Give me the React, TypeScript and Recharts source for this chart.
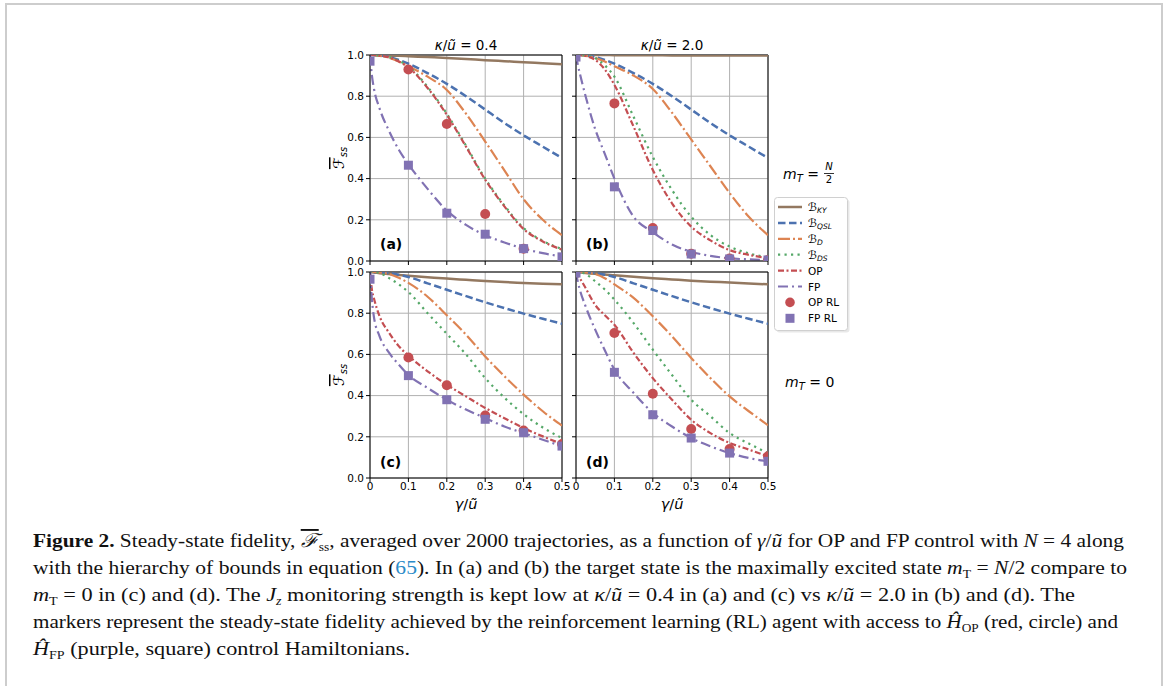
import React from "react";
import {
  CartesianGrid,
  ComposedChart,
  Line,
  ReferenceLine,
  Scatter,
  XAxis,
  YAxis,
} from "recharts";

// gamma / u grid used for all curves
const GAMMA = [0, 0.005, 0.01, 0.025, 0.05, 0.075, 0.1, 0.15, 0.2, 0.25, 0.3, 0.35, 0.4, 0.45, 0.5];
const RL_GAMMA = [0, 0.1, 0.2, 0.3, 0.4, 0.5];
const X_TICKS = [0, 0.1, 0.2, 0.3, 0.4, 0.5];
const Y_TICKS = [0, 0.2, 0.4, 0.6, 0.8, 1.0];

// (a) m_T = N/2, kappa/u = 0.4
const A_KY = [1.0, 1.0, 0.999, 0.998, 0.997, 0.996, 0.994, 0.99, 0.986, 0.981, 0.975, 0.97, 0.965, 0.96, 0.955];
const A_QSL = [1.0, 1.0, 1.0, 0.998, 0.99, 0.976, 0.958, 0.912, 0.86, 0.8, 0.735, 0.67, 0.61, 0.555, 0.5];
const A_D = [1.0, 1.0, 1.0, 0.996, 0.986, 0.968, 0.945, 0.895, 0.83, 0.715, 0.58, 0.44, 0.3, 0.2, 0.125];
const A_DS = [1.0, 1.0, 1.0, 0.997, 0.99, 0.972, 0.945, 0.845, 0.715, 0.56, 0.4, 0.27, 0.16, 0.098, 0.058];
const A_OP = [1.0, 1.0, 1.0, 0.997, 0.988, 0.968, 0.94, 0.84, 0.71, 0.555, 0.395, 0.265, 0.155, 0.095, 0.055];
const A_FP = [1.0, 0.9, 0.84, 0.74, 0.63, 0.54, 0.47, 0.35, 0.245, 0.175, 0.125, 0.09, 0.06, 0.038, 0.022];
const A_OP_RL = [null, 0.93, 0.665, 0.228, 0.06, null];
const A_FP_RL = [0.97, 0.465, 0.232, 0.13, 0.06, 0.02];

// (b) m_T = N/2, kappa/u = 2.0
const B_KY = [1.0, 1.0, 1.0, 1.0, 1.0, 1.0, 0.999, 0.999, 0.999, 0.998, 0.998, 0.998, 0.997, 0.997, 0.997];
const B_QSL = [1.0, 1.0, 1.0, 0.998, 0.99, 0.976, 0.958, 0.912, 0.86, 0.8, 0.735, 0.67, 0.61, 0.555, 0.5];
const B_D = [1.0, 1.0, 1.0, 0.996, 0.986, 0.968, 0.945, 0.9, 0.835, 0.72, 0.59, 0.46, 0.33, 0.215, 0.125];
const B_DS = [1.0, 1.0, 1.0, 0.998, 0.985, 0.95, 0.895, 0.7, 0.505, 0.345, 0.215, 0.126, 0.07, 0.037, 0.018];
const B_OP = [1.0, 1.0, 1.0, 0.995, 0.976, 0.93, 0.855, 0.652, 0.442, 0.28, 0.167, 0.1, 0.053, 0.03, 0.013];
const B_FP = [1.0, 0.95, 0.91, 0.8, 0.64, 0.52, 0.4, 0.215, 0.14, 0.08, 0.045, 0.025, 0.013, 0.008, 0.005];
const B_OP_RL = [null, 0.765, 0.16, 0.035, 0.012, 0.005];
const B_FP_RL = [0.99, 0.36, 0.148, 0.034, 0.01, 0.005];

// (c) m_T = 0, kappa/u = 0.4
const C_KY = [1.0, 0.999, 0.998, 0.994, 0.99, 0.986, 0.982, 0.975, 0.968, 0.962, 0.956, 0.951, 0.947, 0.943, 0.94];
const C_QSL = [1.0, 1.0, 1.0, 0.999, 0.995, 0.987, 0.976, 0.945, 0.914, 0.883, 0.853, 0.825, 0.798, 0.773, 0.749];
const C_D = [1.0, 1.0, 1.0, 0.998, 0.99, 0.972, 0.947, 0.88, 0.79, 0.696, 0.59, 0.494, 0.405, 0.324, 0.254];
const C_DS = [1.0, 1.0, 1.0, 0.995, 0.97, 0.94, 0.903, 0.8, 0.7, 0.6, 0.485, 0.39, 0.31, 0.245, 0.194];
const C_OP = [1.0, 0.914, 0.874, 0.785, 0.704, 0.64, 0.594, 0.518, 0.453, 0.396, 0.34, 0.29, 0.243, 0.202, 0.165];
const C_FP = [1.0, 0.866, 0.785, 0.688, 0.607, 0.55, 0.5, 0.437, 0.38, 0.332, 0.291, 0.25, 0.218, 0.186, 0.154];
const C_OP_RL = [null, 0.585, 0.45, 0.303, 0.23, 0.165];
const C_FP_RL = [0.965, 0.497, 0.38, 0.285, 0.22, 0.155];

// (d) m_T = 0, kappa/u = 2.0
const D_KY = [1.0, 0.999, 0.998, 0.995, 0.991, 0.988, 0.984, 0.977, 0.97, 0.964, 0.958, 0.953, 0.949, 0.944, 0.94];
const D_QSL = [1.0, 1.0, 1.0, 0.999, 0.995, 0.987, 0.976, 0.945, 0.914, 0.883, 0.853, 0.825, 0.798, 0.773, 0.749];
const D_D = [1.0, 1.0, 1.0, 0.998, 0.99, 0.97, 0.94, 0.874, 0.785, 0.688, 0.583, 0.485, 0.396, 0.324, 0.256];
const D_DS = [1.0, 1.0, 0.999, 0.99, 0.955, 0.915, 0.866, 0.752, 0.623, 0.5, 0.38, 0.3, 0.218, 0.167, 0.121];
const D_OP = [1.0, 0.985, 0.97, 0.922, 0.84, 0.79, 0.744, 0.607, 0.485, 0.38, 0.283, 0.218, 0.17, 0.138, 0.105];
const D_FP = [1.0, 0.95, 0.914, 0.833, 0.72, 0.62, 0.526, 0.413, 0.316, 0.25, 0.194, 0.154, 0.121, 0.097, 0.081];
const D_OP_RL = [null, 0.704, 0.409, 0.238, 0.141, 0.105];
const D_FP_RL = [0.995, 0.513, 0.307, 0.194, 0.121, 0.081];

const BROWN = "#937860";
const BLUE = "#4C72B0";
const ORANGE = "#DD8452";
const GREEN = "#55A868";
const RED = "#C44E52";
const PURPLE = "#8172B3";
const GRID = "#b0b0b0";
const SANS = "DejaVu Sans";
const SERIF = "Liberation Serif";

const STYLES = [
  { key: "ky", color: BROWN, dash: undefined, width: 2.5 },
  { key: "qsl", color: BLUE, dash: "7.5 3.5", width: 2.5 },
  { key: "d", color: ORANGE, dash: "12 3 2 3", width: 2.2 },
  { key: "ds", color: GREEN, dash: "2.2 4.3", width: 2.2 },
  { key: "op", color: RED, dash: "6 2.5 2 2.5", width: 2.2 },
  { key: "fp", color: PURPLE, dash: "10 4 2 4", width: 2.2 },
];

const tickStyle = { fill: "#000", fontSize: 10.5, fontFamily: SANS };

function RedDot(props: any) {
  const { cx, cy } = props;
  return <circle cx={cx} cy={cy} r={5} fill={RED} />;
}

function PurpleSquare(props: any) {
  const { cx, cy } = props;
  return <rect x={cx - 4.5} y={cy - 4.5} width={9} height={9} fill={PURPLE} />;
}

function Panel({ left, top, ky, qsl, d, ds, op, fp, opRl, fpRl, showX, showY }: any) {
  const rows = GAMMA.map((g, i) => ({ g, ky: ky[i], qsl: qsl[i], d: d[i], ds: ds[i], op: op[i], fp: fp[i] }));
  const opPts = RL_GAMMA.map((g, i) => ({ g, v: opRl[i] })).filter((p) => p.v !== null);
  const fpPts = RL_GAMMA.map((g, i) => ({ g, v: fpRl[i] })).filter((p) => p.v !== null);

  return (
    <div style={{ position: "absolute", left, top }}>
      <ComposedChart width={252} height={231} data={rows} margin={{ top: 5, right: 20, bottom: 0, left: 0 }}>
        <CartesianGrid stroke={GRID} strokeWidth={1} />
        <XAxis
          dataKey="g"
          type="number"
          domain={[0, 0.5]}
          ticks={X_TICKS}
          interval={0}
          allowDataOverflow
          height={20}
          tickSize={4}
          tickMargin={1}
          axisLine={{ stroke: "#000" }}
          tickLine={{ stroke: "#000" }}
          tick={tickStyle}
          tickFormatter={(v: number) => (showX ? (v === 0 ? "0" : v.toFixed(1)) : "")}
        />
        <YAxis
          type="number"
          domain={[0, 1]}
          ticks={Y_TICKS}
          interval={0}
          allowDataOverflow
          width={40}
          tickSize={4}
          tickMargin={2}
          axisLine={{ stroke: "#000" }}
          tickLine={{ stroke: "#000" }}
          tick={tickStyle}
          tickFormatter={(v: number) => (showY ? v.toFixed(1) : "")}
        />
        <ReferenceLine y={1} stroke="#000" />
        <ReferenceLine x={0.5} stroke="#000" />
        {STYLES.map((s) => (
          <Line
            key={s.key}
            type="monotone"
            dataKey={s.key}
            stroke={s.color}
            strokeWidth={s.width}
            strokeDasharray={s.dash}
            dot={false}
            isAnimationActive={false}
          />
        ))}
        <Scatter data={opPts} dataKey="v" shape={RedDot} isAnimationActive={false} />
        <Scatter data={fpPts} dataKey="v" shape={PurpleSquare} isAnimationActive={false} />
      </ComposedChart>
    </div>
  );
}

const LEGEND = [
  { name: "ℬ", sub: "KY", kind: "line", s: STYLES[0] },
  { name: "ℬ", sub: "QSL", kind: "line", s: STYLES[1] },
  { name: "ℬ", sub: "D", kind: "line", s: STYLES[2] },
  { name: "ℬ", sub: "DS", kind: "line", s: STYLES[3] },
  { name: "OP", sub: "", kind: "line", s: STYLES[4] },
  { name: "FP", sub: "", kind: "line", s: STYLES[5] },
  { name: "OP RL", sub: "", kind: "circle", s: STYLES[4] },
  { name: "FP RL", sub: "", kind: "square", s: STYLES[5] },
];

function Title({ x, y, value }: any) {
  return (
    <text x={x} y={y} textAnchor="middle" fontFamily={SANS} fontSize={13.5} fill="#000">
      <tspan fontStyle="italic">κ</tspan>/<tspan fontStyle="italic">ũ</tspan>
      {" = " + value}
    </text>
  );
}

function XLabel({ x, y }: any) {
  return (
    <text x={x} y={y} textAnchor="middle" fontFamily={SANS} fontSize={14.5} fill="#000">
      <tspan fontStyle="italic">γ</tspan>/<tspan fontStyle="italic">ũ</tspan>
    </text>
  );
}

function YLabel({ x, y }: any) {
  return (
    <text x={x} y={y} textAnchor="middle" fontFamily={SANS} fontSize={15} fill="#000" transform={`rotate(-90 ${x} ${y})`}>
      <tspan fontStyle="italic" textDecoration="overline">ℱ</tspan>
      <tspan fontStyle="italic" fontSize={10} dy={3}>ss</tspan>
    </text>
  );
}

function Overlay() {
  return (
    <svg width={1165} height={686} style={{ position: "absolute", left: 0, top: 0, pointerEvents: "none" }}>
      <Title x={466} y={50} value="0.4" />
      <Title x={672} y={50} value="2.0" />
      <XLabel x={466} y={509} />
      <XLabel x={672} y={509} />
      <YLabel x={344} y={158} />
      <YLabel x={344} y={375} />

      {[["(a)", 380, 249], ["(b)", 586, 249], ["(c)", 380, 467], ["(d)", 586, 467]].map(([t, x, y]) => (
        <text key={t as string} x={x as number} y={y as number} fontFamily={SANS} fontWeight="bold" fontSize={14} fill="#000">
          {t}
        </text>
      ))}

      <text x={783} y={179} fontFamily={SANS} fontSize={14} fill="#000">
        <tspan fontStyle="italic">m</tspan>
        <tspan fontStyle="italic" fontSize={10} dy={3}>T</tspan>
        <tspan dy={-3}>{" = "}</tspan>
      </text>
      <text x={829} y={170} textAnchor="middle" fontFamily={SANS} fontSize={10} fill="#000">
        <tspan fontStyle="italic">N</tspan>
      </text>
      <line x1={824} x2={834} y1={173.5} y2={173.5} stroke="#000" strokeWidth={0.8} />
      <text x={829} y={183} textAnchor="middle" fontFamily={SANS} fontSize={10} fill="#000">
        2
      </text>
      <text x={785} y={387} fontFamily={SANS} fontSize={14} fill="#000">
        <tspan fontStyle="italic">m</tspan>
        <tspan fontStyle="italic" fontSize={10} dy={3}>T</tspan>
        <tspan dy={-3}>{" = 0"}</tspan>
      </text>

      <rect x={776.5} y={199.5} width={73} height={133} rx={3} fill="#e8e8e8" />
      <rect x={774.5} y={197.5} width={73} height={133} rx={3} fill="#fff" stroke="#d0d0d0" />
      {LEGEND.map((e, i) => {
        const y = 207 + i * 15.9;
        return (
          <g key={i}>
            {e.kind === "line" && (
              <line x1={778} x2={802} y1={y} y2={y} stroke={e.s.color} strokeWidth={e.s.width} strokeDasharray={e.s.dash} />
            )}
            {e.kind === "circle" && <circle cx={790} cy={y} r={4.8} fill={RED} />}
            {e.kind === "square" && <rect x={785.5} y={y - 4.5} width={9} height={9} fill={PURPLE} />}
            <text x={808} y={y + 4} fontFamily={SANS} fontSize={10.5} fill="#000">
              <tspan fontStyle={e.sub ? "italic" : "normal"} fontSize={e.sub ? 11.5 : 10.5}>{e.name}</tspan>
              {e.sub && (
                <tspan fontStyle="italic" fontSize={7.5} dy={2}>
                  {e.sub}
                </tspan>
              )}
            </text>
          </g>
        );
      })}

      <g fontFamily={SERIF} fontSize={19} fill="#111">
        <text x={33} y={547} textLength={1091} lengthAdjust="spacingAndGlyphs">
          <tspan fontWeight="bold">Figure 2.</tspan>
          {" Steady-state fidelity, "}
          <tspan fontStyle="italic" textDecoration="overline">ℱ</tspan>
          <tspan fontSize={12} dy={4}>ss</tspan>
          <tspan dy={-4}>{", averaged over 2000 trajectories, as a function of "}</tspan>
          <tspan fontStyle="italic">γ</tspan>/<tspan fontStyle="italic">ũ</tspan>
          {" for OP and FP control with "}
          <tspan fontStyle="italic">N</tspan>
          {" = 4 along"}
        </text>
        <text x={33} y={574} textLength={1094} lengthAdjust="spacingAndGlyphs">
          {"with the hierarchy of bounds in equation ("}
          <tspan fill="#2a8bc8">65</tspan>
          {"). In (a) and (b) the target state is the maximally excited state "}
          <tspan fontStyle="italic">m</tspan>
          <tspan fontSize={12} dy={4}>T</tspan>
          <tspan dy={-4}>{" = "}</tspan>
          <tspan fontStyle="italic">N</tspan>
          {"/2 compare to"}
        </text>
        <text x={33} y={601} textLength={1042} lengthAdjust="spacingAndGlyphs">
          <tspan fontStyle="italic">m</tspan>
          <tspan fontSize={12} dy={4}>T</tspan>
          <tspan dy={-4}>{" = 0 in (c) and (d). The "}</tspan>
          <tspan fontStyle="italic">J</tspan>
          <tspan fontStyle="italic" fontSize={12} dy={4}>z</tspan>
          <tspan dy={-4}>{" monitoring strength is kept low at "}</tspan>
          <tspan fontStyle="italic">κ</tspan>/<tspan fontStyle="italic">ũ</tspan>
          {" = 0.4 in (a) and (c) vs "}
          <tspan fontStyle="italic">κ</tspan>/<tspan fontStyle="italic">ũ</tspan>
          {" = 2.0 in (b) and (d). The"}
        </text>
        <text x={33} y={628} textLength={1085} lengthAdjust="spacingAndGlyphs">
          {"markers represent the steady-state fidelity achieved by the reinforcement learning (RL) agent with access to "}
          <tspan fontStyle="italic">Ĥ</tspan>
          <tspan fontSize={12} dy={4}>OP</tspan>
          <tspan dy={-4}>{" (red, circle) and"}</tspan>
        </text>
        <text x={33} y={655} textLength={377} lengthAdjust="spacingAndGlyphs">
          <tspan fontStyle="italic">Ĥ</tspan>
          <tspan fontSize={12} dy={4}>FP</tspan>
          <tspan dy={-4}>{" (purple, square) control Hamiltonians."}</tspan>
        </text>
      </g>
    </svg>
  );
}

export default function App() {
  return (
    <div
      style={{
        position: "absolute",
        left: 0,
        top: 0,
        width: 1165,
        height: 686,
        background: "#fff",
        overflow: "hidden",
      }}
    >
      <div
        style={{
          position: "absolute",
          left: 5,
          top: 3,
          width: 1154,
          height: 720,
          border: "2px solid #cdcdcd",
        }}
      />
      <Panel left={330} top={50} ky={A_KY} qsl={A_QSL} d={A_D} ds={A_DS} op={A_OP} fp={A_FP} opRl={A_OP_RL} fpRl={A_FP_RL} showX={false} showY={true} />
      <Panel left={536} top={50} ky={B_KY} qsl={B_QSL} d={B_D} ds={B_DS} op={B_OP} fp={B_FP} opRl={B_OP_RL} fpRl={B_FP_RL} showX={false} showY={false} />
      <Panel left={330} top={267} ky={C_KY} qsl={C_QSL} d={C_D} ds={C_DS} op={C_OP} fp={C_FP} opRl={C_OP_RL} fpRl={C_FP_RL} showX={true} showY={true} />
      <Panel left={536} top={267} ky={D_KY} qsl={D_QSL} d={D_D} ds={D_DS} op={D_OP} fp={D_FP} opRl={D_OP_RL} fpRl={D_FP_RL} showX={true} showY={false} />
      <Overlay />
    </div>
  );
}
